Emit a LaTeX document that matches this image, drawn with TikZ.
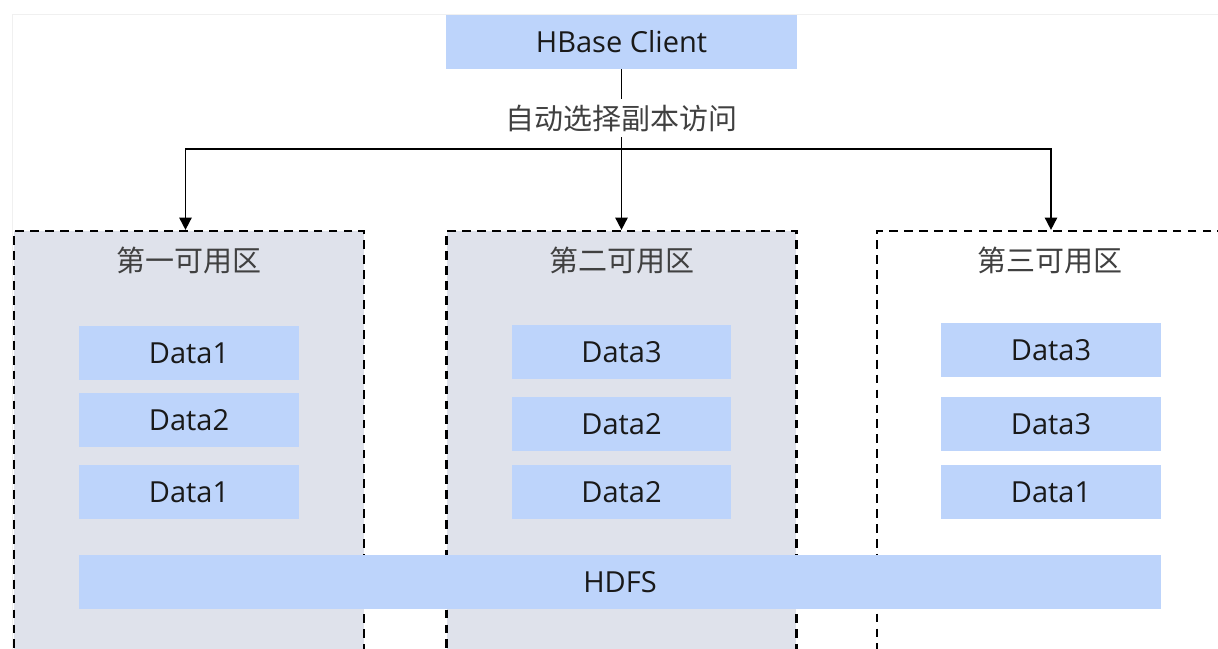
\documentclass[tikz,border=0pt]{standalone}
\usepackage{fontspec}
\setmainfont{Open Sans}
\newfontfamily\cjk{Noto Sans CJK SC}
\usetikzlibrary{arrows.meta,positioning}
\definecolor{boxblue}{HTML}{BDD4FB}
\definecolor{zonegray}{HTML}{DFE2EB}
\definecolor{txtgray}{HTML}{404040}
\definecolor{framegray}{HTML}{F0F0F0}
\tikzset{databox/.style={fill=boxblue, minimum width=4.4cm, minimum height=1.08cm, inner sep=0pt, font=\fontsize{16.5}{18}\selectfont, text=black!90}, zone/.style={draw=black, line width=1.3pt, dash pattern=on 5pt off 3.5pt, minimum width=7cm, minimum height=8.6cm, inner sep=0pt}, zlab/.style={font=\cjk\fontsize{16.5}{18}\selectfont, text=txtgray}, arr/.style={-{Triangle[length=7pt,width=7pt]}, line width=1pt}}
\begin{document}
\begin{tikzpicture}[x=0.02cm, y=-0.02cm]
\useasboundingbox (0,0) rectangle (1218,649);
\clip (0,0) rectangle (1218,649);
\draw[framegray] (12,700) -- (12,14) -- (1240,14);
% zones
\node[zone, fill=zonegray] (zoneA) at (189,446) {};
\node[zone, fill=zonegray] (zoneB) at (621.5,446) {};
\node[zone, minimum width=6.96cm] (zoneC) at (1051,446) {};
\node[zlab] (labA) at (189,260) {第一可用区};
\node[zlab] (labB) at (622,260) {第二可用区};
\node[zlab] (labC) at (1050,260) {第三可用区};
% data blocks
\node[databox] (a1) at (189,353) {Data1};
\node[databox] (a2) at (189,420) {Data2};
\node[databox] (a3) at (189,492) {Data1};
\node[databox] (b1) at (621.5,352) {Data3};
\node[databox] (b2) at (621.5,424) {Data2};
\node[databox] (b3) at (621.5,492) {Data2};
\node[databox] (c1) at (1051,350) {Data3};
\node[databox] (c2) at (1051,424) {Data3};
\node[databox] (c3) at (1051,492) {Data1};
\node[databox, minimum width=21.64cm] (hdfs) at (620,582) {HDFS};
% client and access paths
\node[databox, minimum width=7.02cm] (client) at (621.5,42) {HBase Client};
\coordinate (junc) at (621.5,149);
\draw[line width=1pt] (client.south) -- (junc);
\node[zlab, fill=white, inner sep=3pt] (sel) at (621.5,118) {自动选择副本访问};
\draw[arr] (junc) -| ([xshift=-2pt]zoneA.north);
\draw[arr] (junc) -- (zoneB.north);
\draw[arr] (junc) -| (zoneC.north);
\end{tikzpicture}
\end{document}
